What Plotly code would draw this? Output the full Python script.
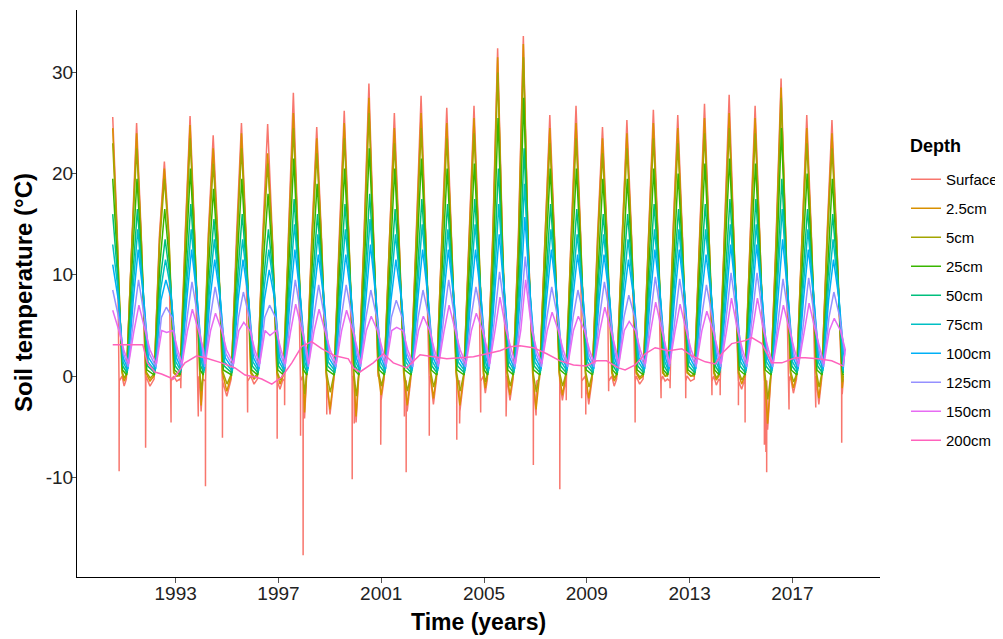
import plotly.graph_objects as go

# ---------------- data ----------------
depths = ["Surface", "2.5cm", "5cm", "25cm", "50cm", "75cm", "100cm", "125cm", "150cm", "200cm"]
colors = ["#F8766D", "#D89000", "#A3A500", "#39B600", "#00BF7D", "#00BFC4",
          "#00B0F6", "#9590FF", "#E76BF3", "#FF62BC"]

# time (decimal year) of each summer maximum, 1990 (series start) .. 2018
peak_time = [1990.55, 1991.48, 1992.56, 1993.56, 1994.46, 1995.56, 1996.58, 1997.58,
             1998.49, 1999.56, 2000.52, 2001.51, 2002.55, 2003.55, 2004.61, 2005.53,
             2006.53, 2007.56, 2008.58, 2009.61, 2010.56, 2011.59, 2012.54, 2013.58,
             2014.54, 2015.55, 2016.56, 2017.56, 2018.54]
series_end = 2018.98

# summer maxima per depth (degC)
peak_surface = [25.6, 25.0, 21.2, 25.7, 23.8, 25.0, 24.9, 28.0, 24.6, 26.2, 28.9, 26.0, 27.7, 26.5,
                26.7, 32.4, 33.6, 25.8, 26.7, 24.6, 25.3, 26.3, 25.8, 26.9, 27.8, 26.7, 29.4, 25.8, 25.3]
peak_2_5 = [24.5, 24.0, 20.5, 24.8, 22.5, 24.0, 22.0, 26.0, 23.5, 25.0, 27.5, 24.5, 26.0, 25.0,
            25.5, 31.5, 32.8, 24.5, 25.0, 23.5, 24.0, 25.0, 24.5, 25.5, 26.0, 25.5, 28.5, 24.5, 24.0]
peak_5 = [23.0, 22.5, 19.5, 23.5, 21.0, 22.5, 21.0, 24.5, 22.0, 23.5, 26.0, 23.0, 24.5, 23.5,
          24.0, 30.0, 31.5, 23.0, 23.5, 22.0, 22.5, 23.5, 23.0, 24.0, 24.5, 24.0, 27.5, 23.0, 22.5]
peak_25 = [19.5, 19.5, 16.5, 20.5, 18.5, 19.5, 18.0, 21.5, 19.0, 20.5, 22.5, 20.5, 21.5, 20.5,
           21.0, 25.5, 27.5, 20.5, 20.5, 19.5, 19.5, 20.5, 20.0, 21.0, 21.5, 21.0, 24.5, 20.0, 19.5]
peak_50 = [16.0, 16.5, 13.5, 17.0, 15.5, 16.0, 14.5, 17.5, 16.0, 17.0, 18.0, 16.5, 17.5, 17.0,
           17.5, 20.5, 22.5, 17.0, 16.5, 16.0, 16.0, 17.0, 16.5, 17.0, 17.5, 17.5, 19.5, 16.5, 16.0]
peak_75 = [13.0, 14.5, 11.5, 14.5, 13.5, 13.5, 12.5, 15.0, 14.0, 14.5, 15.5, 14.0, 15.0, 14.5,
           15.0, 17.0, 19.0, 14.5, 14.0, 14.0, 13.5, 14.5, 14.5, 14.5, 15.0, 15.0, 16.5, 14.5, 13.5]
peak_100 = [11.0, 12.5, 9.5, 12.5, 11.5, 11.5, 10.5, 12.5, 12.0, 12.0, 13.0, 11.5, 12.5, 12.5,
            12.5, 14.0, 15.7, 12.5, 12.0, 12.0, 11.5, 12.5, 12.5, 12.0, 13.0, 13.0, 13.5, 12.5, 11.5]
peak_125 = [8.5, 9.5, 6.8, 9.3, 8.8, 8.3, 7.0, 9.5, 9.0, 9.0, 8.5, 7.5, 8.5, 9.5,
            8.8, 10.3, 11.8, 8.8, 8.5, 9.3, 8.0, 9.8, 9.6, 9.0, 10.2, 10.2, 9.6, 9.7, 8.3]
peak_150 = [6.5, 7.0, 4.3, 6.6, 6.2, 5.3, 4.0, 7.1, 6.6, 6.5, 5.9, 4.8, 5.9, 7.0,
            6.2, 7.8, 9.5, 6.3, 5.9, 6.8, 5.4, 7.3, 7.1, 6.4, 7.7, 7.7, 7.0, 7.2, 5.7]

# typical level on the flanks of the summer peak, per depth (degC)
shoulder = [14.0, 13.5, 13.0, 11.0, 9.5, 8.5, 7.5, 5.8, 4.5]

# winter level right after the autumn decline / just before the spring rise, per depth
winter_start = [0.0, 0.3, 0.4, 0.6, 1.0, 1.4, 1.8, 2.2, 2.6]
winter_end = [-0.3, 0.0, 0.2, 0.1, 0.3, 0.5, 0.7, 0.9, 1.2]

# mid-winter levels for each winter (after each summer peak)
winter_2_5 = [-0.5, -0.5, 0.0, -2.9, -1.5, -0.3, -0.8, -3.6, -3.3, -4.0, -1.9, -2.9, -2.2, -2.9,
              -1.2, -1.9, -3.3, -1.9, -2.2, -0.5, -0.3, 0.0, 0.0, -0.4, -0.8, -4.7, -1.2, -2.2, -1.2]
winter_surface = [-1.0, -1.0, -0.5, -3.5, -2.0, -0.8, -1.3, -4.2, -3.8, -4.6, -2.4, -3.5, -2.8, -3.5,
                  -1.7, -2.4, -3.9, -2.4, -2.8, -1.0, -0.8, -0.5, -0.5, -0.9, -1.3, -5.3, -1.7, -2.8, -1.8]
winter_5 = [-0.2, -0.2, 0.0, -1.5, -0.8, -0.1, -0.4, -1.8, -1.6, -2.0, -1.0, -1.5, -1.1, -1.5,
            -0.6, -1.0, -1.6, -1.0, -1.1, -0.2, -0.1, 0.0, 0.0, -0.2, -0.4, -2.3, -0.6, -1.1, -0.6]

# surface cold spikes (decimal year, degC)
spike_time = [1990.80, 1991.83, 1992.82, 1993.20, 1993.88, 1994.16, 1994.82, 1995.80, 1996.95,
              1997.24, 1997.86, 1997.96, 1998.88, 1999.87, 1999.95, 2000.98, 2001.90, 2001.97,
              2002.87, 2003.94, 2004.05, 2004.87, 2005.86, 2006.92, 2007.05, 2007.95, 2008.20,
              2008.80, 2008.96, 2009.85, 2010.88, 2011.89, 2012.24, 2012.85, 2013.87, 2014.19,
              2014.90, 2015.16, 2015.91, 2015.97, 2016.00, 2016.87, 2017.91, 2018.92]
spike_value = [-9.4, -7.1, -4.6, -1.2, -4.0, -10.9, -6.1, -3.6, -6.2,
               -2.9, -5.9, -17.7, -3.8, -10.2, -4.7, -6.8, -4.0, -9.5,
               -5.9, -6.3, -4.7, -3.6, -4.0, -8.8, -3.1, -11.2, -2.4,
               -2.2, -3.8, -1.5, -4.6, -2.2, -1.2, -2.2, -1.9, -1.9,
               -2.9, -4.6, -6.8, -7.5, -9.5, -3.3, -3.1, -6.6]

# 200cm sensor (slow), decimal year / degC
t_200 = [1990.55, 1991.72, 1991.90, 1992.19, 1992.45, 1992.91, 1993.36, 1993.82, 1994.27, 1994.79,
         1995.31, 1995.70, 1996.09, 1996.35, 1996.74, 1997.13, 1997.52, 1997.90, 1998.29, 1998.68,
         1999.20, 1999.72, 1999.92, 2000.17, 2000.69, 2001.08, 2001.47, 2001.99, 2002.51, 2003.03,
         2003.55, 2004.07, 2004.59, 2005.11, 2005.62, 2006.01, 2006.40, 2006.92, 2007.44, 2007.96,
         2008.48, 2008.98, 2009.38, 2009.77, 2010.23, 2010.49, 2010.88, 2011.27, 2011.66, 2012.18,
         2012.70, 2013.08, 2013.61, 2014.00, 2014.25, 2014.64, 2015.16, 2015.42, 2015.81, 2016.20,
         2016.59, 2017.11, 2017.50, 2018.01, 2018.53, 2018.98]
v_200 = [3.1, 3.1, 1.3, 0.4, 0.2, -0.3, 1.3, 2.0, 1.7, 1.3,
         0.8, 0.1, -0.1, -0.3, -0.8, -0.1, 1.3, 2.9, 3.4, 2.7,
         2.0, 1.7, 0.8, 0.4, 1.3, 2.2, 1.3, 0.8, 2.1, 1.9,
         1.7, 1.8, 1.9, 2.2, 2.5, 2.9, 3.0, 2.8, 2.2, 1.5,
         1.1, 1.0, 1.5, 1.5, 0.8, 0.6, 1.1, 2.2, 2.8, 2.5,
         2.7, 2.0, 1.4, 1.2, 2.2, 3.2, 3.5, 3.8, 3.2, 1.3,
         1.3, 1.8, 1.8, 1.7, 1.5, 1.0]

year_ticks = [1993, 1997, 2001, 2005, 2009, 2013, 2017]
y_ticks = [-10, 0, 10, 20, 30]

# ---------------- build the seasonal traces ----------------
peaks = [peak_surface, peak_2_5, peak_5, peak_25, peak_50, peak_75, peak_100, peak_125, peak_150]
winters_mid = [winter_surface, winter_2_5, winter_5] + [None] * 6
delay = [0.0, 0.0, 0.005, 0.015, 0.03, 0.045, 0.06, 0.075, 0.09]
rise0 = 0.40    # start of spring rise before the peak (years)
rise1 = 0.19    # flank point before the peak
fall1 = [0.18, 0.18, 0.185, 0.19, 0.20, 0.21, 0.22, 0.23, 0.24]
fall0 = [0.36, 0.36, 0.37, 0.38, 0.39, 0.40, 0.41, 0.42, 0.43]


def seasonal(k):
    pts = []
    n = len(peak_time)
    for i in range(n):
        tp = peak_time[i] + (0 if i == 0 else delay[k])
        if i > 0:
            pts.append((tp - rise0, winter_end[k]))
            pts.append((tp - rise1, shoulder[k]))
        pts.append((tp, peaks[k][i]))
        pts.append((tp + fall1[k], shoulder[k]))
        te = tp + fall0[k]
        pts.append((te, winter_start[k]))
        if i + 1 < n:
            tn = peak_time[i + 1] + delay[k] - rise0
        else:
            tn = series_end
        if winters_mid[k] is not None:
            pts.append(((te + tn) / 2, winters_mid[k][i]))
    pts.append((series_end, winter_end[k]))
    if k == 0:
        for ts, vs in zip(spike_time, spike_value):
            pts.append((ts - 0.004, -0.5))
            pts.append((ts, vs))
            pts.append((ts + 0.004, -0.5))
        pts.sort(key=lambda p: p[0])
    return [p[0] for p in pts], [p[1] for p in pts]


fig = go.Figure()
for k, name in enumerate(depths):
    if k < 9:
        xs, ys = seasonal(k)
    else:
        xs, ys = t_200, v_200
    fig.add_trace(go.Scatter(
        x=xs, y=ys, mode="lines", name=name,
        line=dict(color=colors[k], width=1.5),
        legendgroup=name,
    ))

# ---------------- layout ----------------
# the page body adds an 8px offset, so the figure is 8px smaller than the window
OFF = 8
W, H = 1003 - OFF, 639 - OFF
PL, PR, PT, PB = 77 - OFF, 880 - OFF, 10 - OFF, 577 - OFF   # plot box in figure px
PW, PH = PR - PL, PB - PT


def px_x(px):
    return (px - OFF - PL) / PW


def px_y(py):
    return (PB - (py - OFF)) / PH


FONT = "Liberation Sans, Arial, sans-serif"
fig.update_layout(
    width=W, height=H,
    margin=dict(l=PL, r=W - PR, t=PT, b=H - PB, autoexpand=False),
    paper_bgcolor="white", plot_bgcolor="white",
    font=dict(family=FONT, color="black"),
    showlegend=True,
    legend=dict(
        font=dict(size=15, color="black"),
        x=px_x(906), xanchor="left", y=px_y(163), yanchor="top",
        tracegroupgap=6.5, itemwidth=30,
        bgcolor="rgba(0,0,0,0)",
    ),
    annotations=[
        dict(text="<b>Depth</b>", x=px_x(908), y=px_y(146), xref="paper", yref="paper",
             showarrow=False, font=dict(size=18, color="black"),
             xanchor="left", yanchor="middle"),
        dict(text="<b>Time (years)</b>", x=px_x(478), y=px_y(622), xref="paper", yref="paper",
             showarrow=False, font=dict(size=23, color="black"),
             xanchor="center", yanchor="middle"),
        dict(text="<b>Soil temperature (°C)</b>", x=px_x(23), y=px_y(293), xref="paper", yref="paper",
             showarrow=False, font=dict(size=24, color="black"), textangle=-90,
             xanchor="center", yanchor="middle"),
    ],
)

fig.update_xaxes(
    range=[1989.16, 2020.41], automargin=False,
    tickvals=year_ticks, ticktext=[str(v) for v in year_ticks],
    showgrid=False, zeroline=False,
    showline=True, linecolor="black", linewidth=1.2,
    ticks="outside", ticklen=5, tickcolor="#555", tickwidth=1,
    tickfont=dict(size=19, color="#222"),
    ticklabelstandoff=-6,
)
fig.update_yaxes(
    range=[-19.86, 36.17], automargin=False,
    tickvals=y_ticks, ticktext=[str(v) for v in y_ticks],
    showgrid=False, zeroline=False,
    showline=True, linecolor="black", linewidth=1.2,
    ticks="outside", ticklen=5, tickcolor="#555", tickwidth=1,
    tickfont=dict(size=19, color="#222"),
    ticklabelstandoff=-6,
)

fig.write_html("out.html")
